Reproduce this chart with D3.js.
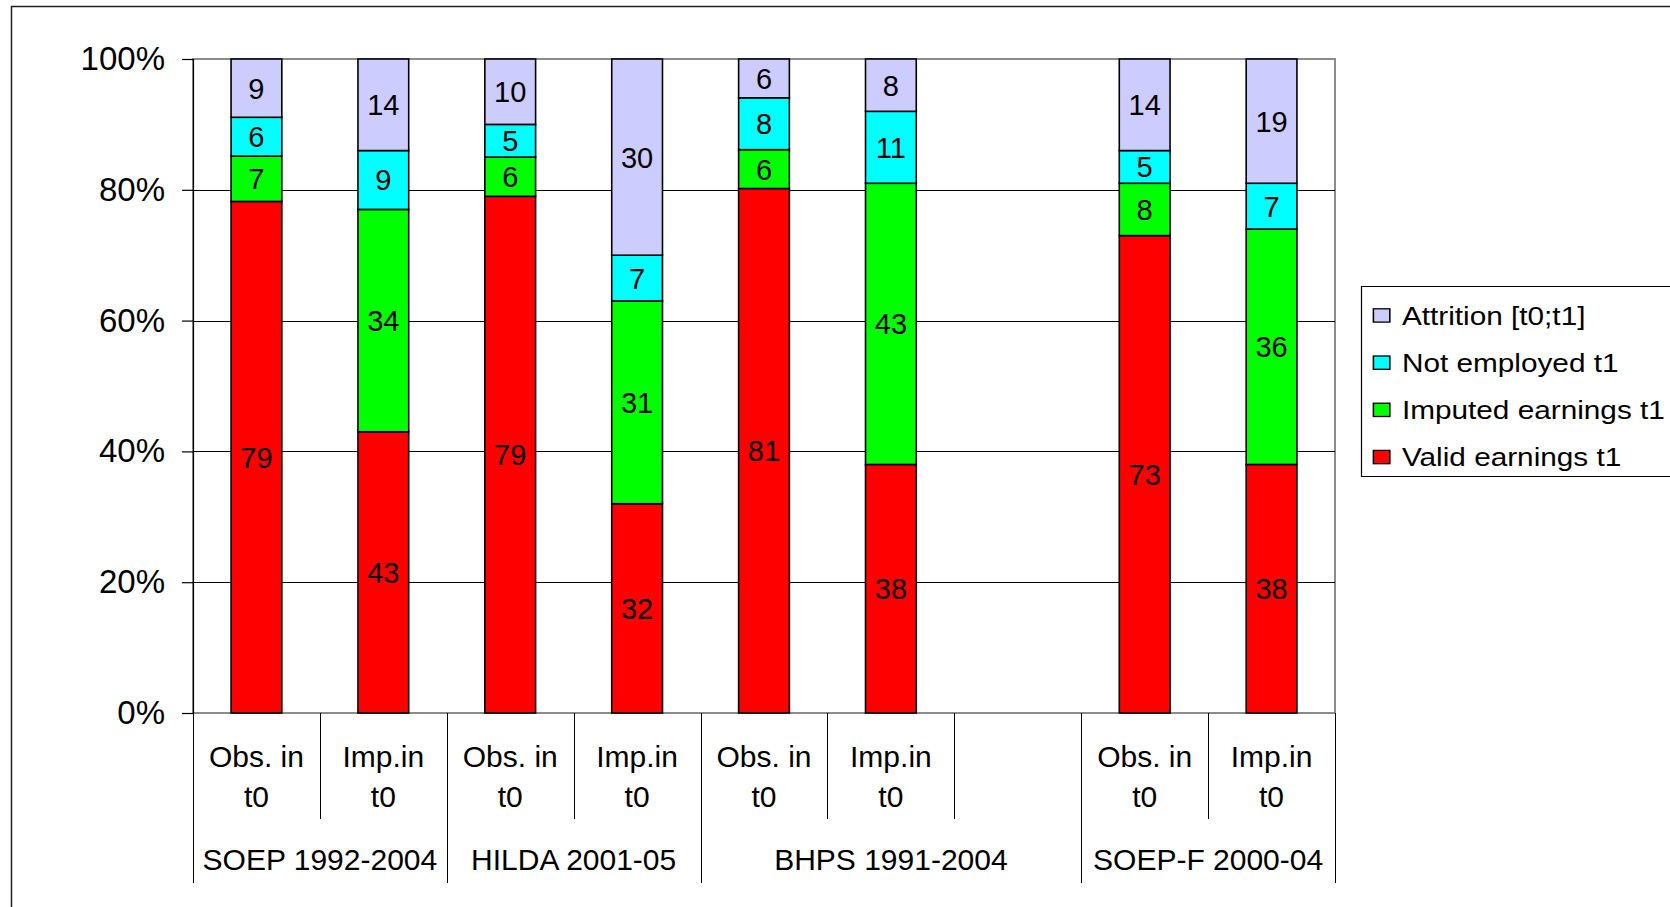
<!DOCTYPE html>
<html>
<head>
<meta charset="utf-8">
<script src="https://cdn.jsdelivr.net/npm/d3@7/dist/d3.min.js"></script>
<style>
  html, body { margin: 0; padding: 0; background: #fff; }
  svg { display: block; font-family: "Liberation Sans", Arial, sans-serif; }
</style>
</head>
<body>
<svg id="chart" width="1670" height="907"></svg>
<script>
// Outcome shares in t1 for respondents observed / imputed in t0, by panel survey
const groups = ["SOEP 1992-2004", "HILDA 2001-05", "BHPS 1991-2004", "SOEP-F 2000-04"];
const groupSizes = [2, 2, 3, 2];
const slotLine1 = ["Obs. in", "Imp.in", "Obs. in", "Imp.in", "Obs. in", "Imp.in", "", "Obs. in", "Imp.in"];
const slotLine2 = ["t0", "t0", "t0", "t0", "t0", "t0", "", "t0", "t0"];

const seriesNames = ["Valid earnings t1", "Imputed earnings t1", "Not employed t1", "Attrition [t0;t1]"];
const seriesColors = ["#FF0000", "#00FF00", "#00FFFF", "#CCCCFF"];

const validEarnings   = [79, 43, 79, 32, 81, 38, null, 73, 38];
const imputedEarnings = [7, 34, 6, 31, 6, 43, null, 8, 36];
const notEmployed     = [6, 9, 5, 7, 8, 11, null, 5, 7];
const attrition       = [9, 14, 10, 30, 6, 8, null, 14, 19];

const yTicks = [0, 0.2, 0.4, 0.6, 0.8, 1];

const keys = ["valid", "imputed", "notEmployed", "attrition"];
const rows = slotLine1.map((_, i) => ({
  slot: i,
  valid: validEarnings[i] || 0,
  imputed: imputedEarnings[i] || 0,
  notEmployed: notEmployed[i] || 0,
  attrition: attrition[i] || 0,
  empty: validEarnings[i] == null
}));

const svg = d3.select("#chart");

// outer chart frame (runs off the right and bottom edges)
svg.append("rect")
  .attr("x", 11.5).attr("y", 6.5)
  .attr("width", 1700).attr("height", 960)
  .attr("fill", "none").attr("stroke", "#222").attr("stroke-width", 1.5);

const plot = { left: 193, right: 1335, top: 59, bottom: 713 };

const x = d3.scaleBand()
  .domain(rows.map(d => d.slot))
  .range([plot.left, plot.right])
  .paddingInner(0.6)
  .paddingOuter(0.3);

const y = d3.scaleLinear().domain([0, 1]).range([plot.bottom, plot.top]);

// plot area border
svg.append("rect")
  .attr("x", plot.left).attr("y", plot.top)
  .attr("width", plot.right - plot.left).attr("height", plot.bottom - plot.top)
  .attr("fill", "none").attr("stroke", "#8c8c8c").attr("stroke-width", 2);

// horizontal gridlines
svg.append("g")
  .selectAll("line")
  .data(yTicks.filter(t => t > 0 && t < 1))
  .join("line")
  .attr("x1", plot.left).attr("x2", plot.right)
  .attr("y1", d => Math.round(y(d)) + 0.5).attr("y2", d => Math.round(y(d)) + 0.5)
  .attr("stroke", "#000").attr("stroke-width", 1);

// y axis
const yAxis = svg.append("g")
  .attr("transform", `translate(${plot.left},0)`)
  .call(d3.axisLeft(y).tickValues(yTicks).tickFormat(d3.format(".0%")).tickSize(11).tickPadding(17));
yAxis.select(".domain").attr("stroke", "#000").attr("stroke-width", 1.2);
yAxis.selectAll(".tick line").attr("stroke", "#000").attr("stroke-width", 1.2);
yAxis.selectAll(".tick text")
  .attr("font-size", 33).attr("fill", "#000")
  .attr("font-family", "Liberation Sans, Arial, sans-serif");

// stacked bars (100% stacked)
const stacked = d3.stack().keys(keys).offset(d3.stackOffsetExpand)(rows);

const layers = svg.append("g")
  .selectAll("g")
  .data(stacked)
  .join("g")
  .attr("fill", (d, i) => seriesColors[i]);

layers.selectAll("rect")
  .data(d => d.filter(s => !s.data.empty))
  .join("rect")
  .attr("x", d => x(d.data.slot))
  .attr("width", x.bandwidth())
  .attr("y", d => y(d[1]))
  .attr("height", d => y(d[0]) - y(d[1]))
  .attr("stroke", "#000").attr("stroke-width", 1.6);

// value labels
const labels = svg.append("g")
  .attr("font-size", 29).attr("text-anchor", "middle").attr("fill", "#000");
stacked.forEach(layer => {
  labels.selectAll(null)
    .data(layer.filter(s => !s.data.empty))
    .join("text")
    .attr("x", d => x(d.data.slot) + x.bandwidth() / 2)
    .attr("y", d => (y(d[0]) + y(d[1])) / 2)
    .attr("dy", "0.36em")
    .text(d => d.data[layer.key]);
});

// category axis: slot dividers and two-level labels
const step = x.step();
const groupStarts = [];
let acc = 0;
groupSizes.forEach(n => { groupStarts.push(acc); acc += n; });
const groupEdges = new Set([...groupStarts, acc]);

const cat = svg.append("g");
d3.range(rows.length + 1).forEach(i => {
  const xx = Math.round(plot.left + i * step) + 0.5;
  cat.append("line")
    .attr("x1", xx).attr("x2", xx)
    .attr("y1", plot.bottom).attr("y2", groupEdges.has(i) ? plot.bottom + 170 : plot.bottom + 106)
    .attr("stroke", "#000").attr("stroke-width", 1);
});

cat.append("g")
  .attr("font-size", 30).attr("text-anchor", "middle").attr("fill", "#000")
  .selectAll("text")
  .data(rows)
  .join("text")
  .attr("x", d => x(d.slot) + x.bandwidth() / 2)
  .attr("y", plot.bottom + 54)
  .call(t => t.append("tspan").text(d => slotLine1[d.slot]))
  .call(t => t.append("tspan")
    .attr("x", d => x(d.slot) + x.bandwidth() / 2)
    .attr("dy", 40)
    .text(d => slotLine2[d.slot]));

cat.append("g")
  .attr("font-size", 30).attr("text-anchor", "middle").attr("fill", "#000")
  .selectAll("text")
  .data(groups)
  .join("text")
  .attr("x", (d, i) => plot.left + (groupStarts[i] + groupSizes[i] / 2) * step)
  .attr("y", plot.bottom + 157)
  .text(d => d);

// legend (drawn wide: horizontally stretched box)
const legend = svg.append("g")
  .attr("transform", "translate(1361.5,286.5) scale(1.19,1)");
legend.append("rect")
  .attr("x", 0).attr("y", 0).attr("width", 270).attr("height", 190)
  .attr("fill", "#fff").attr("stroke", "#000").attr("stroke-width", 1);

const legendOrder = [3, 2, 1, 0];
const items = legend.selectAll("g.item")
  .data(legendOrder)
  .join("g")
  .attr("class", "item")
  .attr("transform", (d, i) => `translate(0,${29 + i * 47.2})`);
items.append("rect")
  .attr("x", 10).attr("y", -6.7).attr("width", 13.8).attr("height", 13.3)
  .attr("fill", d => seriesColors[d]).attr("stroke", "#000").attr("stroke-width", 1.3);
items.append("text")
  .attr("x", 34).attr("y", 0).attr("dy", "0.36em")
  .attr("font-size", 25).attr("fill", "#000")
  .text(d => seriesNames[d]);
</script>
</body>
</html>
